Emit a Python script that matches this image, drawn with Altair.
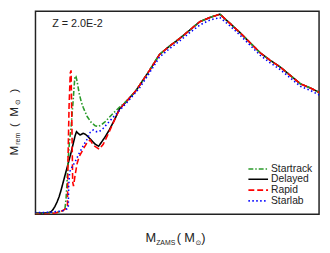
import altair as alt
import pandas as pd

series_names = ["Startrack", "Delayed", "Rapid", "Starlab"]
series_colors = ["#2a9a2a", "#000000", "#ff0000", "#0000ff"]
series_dashes = [[5, 2, 1.5, 2], [1, 0], [6, 3], [1.5, 2.5]]

delayed_x = [8, 10, 12, 14, 15, 16, 17, 18, 19, 20, 21, 22, 23, 24, 25, 26, 27, 28, 28.7, 29.5, 30.5, 32, 33, 34, 36, 38, 39.7,
             41, 43, 45, 48, 50, 52, 55, 58, 60, 65, 70, 75, 80, 85, 90, 95, 100, 105, 110, 115, 120, 125, 130, 135, 140, 145, 150]
delayed_y = [1.3, 1.3, 1.3, 1.32, 1.36, 1.45, 1.7, 2.1, 2.6, 3.2, 4.0, 4.9, 5.8, 6.7, 7.6, 8.5, 9.5, 10.5, 11.0, 10.8, 10.6, 10.8, 10.7, 10.5, 10.0, 9.5, 9.25,
             9.7, 10.4, 11.2, 12.6, 13.7, 14.2, 15.0, 15.8, 16.5, 18.3, 20.2, 21.2, 22.1, 23.1, 24.1, 24.6, 25.0, 23.9, 22.8, 21.6, 20.4, 19.5, 18.7, 17.7, 16.7, 16.2, 15.6]

startrack_x = [8, 12, 16, 19, 21, 22, 23, 23.5, 24, 24.5, 25.2, 26, 27, 27.9, 28.4, 29, 30, 31, 32, 34, 36, 38, 39.5, 41, 43, 45, 47, 50,
               52, 55, 58, 60, 65, 70, 75, 80, 85, 90, 95, 100, 105, 110, 115, 120, 125, 130, 135, 140, 145, 150]
startrack_y = [1.25, 1.25, 1.3, 1.35, 1.5, 1.6, 1.9, 3.0, 5.0, 7.5, 9.8, 11.5, 14.6, 17.6, 17.6, 17.0, 15.6, 14.6, 13.9, 12.8, 12.1, 11.7, 11.6, 11.8, 12.2, 12.7, 13.2, 13.9,
               14.3, 15.0, 15.8, 16.5, 18.3, 20.2, 21.2, 22.1, 23.1, 24.1, 24.6, 25.0, 23.9, 22.8, 21.6, 20.4, 19.5, 18.7, 17.7, 16.7, 16.2, 15.6]

rapid_x = [8, 12, 16, 20, 22, 23.5, 24.2, 24.5, 25, 25.6, 26.0, 26.4, 26.8, 27.2, 28, 29, 30, 32, 34, 35.5, 37, 40, 42, 45, 48, 50,
           52, 55, 58, 60, 65, 70, 75, 80, 85, 90, 95, 100, 105, 110, 115, 120, 125, 130, 135, 140, 145, 150]
rapid_y = [1.15, 1.15, 1.2, 1.4, 1.6, 1.85, 2.0, 8.0, 14.0, 18.0, 18.3, 12.0, 5.0, 4.5, 5.8, 7.2, 8.0, 8.9, 9.7, 10.0, 9.4, 8.9, 9.5, 11.0, 12.6, 13.6,
           14.2, 15.0, 15.8, 16.5, 18.3, 20.2, 21.2, 22.1, 23.1, 24.1, 24.6, 25.0, 23.9, 22.8, 21.6, 20.4, 19.5, 18.7, 17.7, 16.7, 16.2, 15.6]

starlab_x = [8, 12, 16, 20, 22, 24, 24.6, 24.8, 25.3, 26.5, 28, 30, 32, 34, 35.5, 37, 38.5, 40, 42, 45, 48, 50, 55, 60, 65, 70, 75, 80,
             85, 90, 95, 100, 105, 110, 115, 120, 125, 130, 135, 140, 145, 150]
starlab_y = [1.35, 1.35, 1.4, 1.5, 1.6, 1.8, 1.9, 4.5, 6.2, 6.8, 7.4, 8.4, 9.3, 10.1, 10.9, 11.2, 11.0, 11.0, 11.4, 12.2, 13.0, 13.5, 14.8, 16.2, 18.0, 19.9, 20.9, 21.8,
             22.8, 23.7, 24.3, 24.6, 23.6, 22.5, 21.3, 20.1, 19.2, 18.4, 17.4, 16.4, 15.9, 15.3]

x_ticks = [10, 20, 30, 40, 50, 60, 70, 80, 90, 100, 110, 120, 130, 140]
y_ticks = [2.5, 5, 7.5, 10, 12.5, 15, 17.5, 20, 22.5, 25]
X_DOMAIN = [8.3, 149.3]
Y_DOMAIN = [1.14, 25.35]

rows = []
for name, xs, ys in [("Delayed", delayed_x, delayed_y), ("Startrack", startrack_x, startrack_y),
                     ("Rapid", rapid_x, rapid_y), ("Starlab", starlab_x, starlab_y)]:
    for i, (a, b) in enumerate(zip(xs, ys)):
        rows.append({"series": name, "m_zams": a, "m_rem": b, "i": i})
df = pd.DataFrame(rows)

FONT = "Liberation Sans"
W, H = 289, 207
xscale = alt.Scale(domain=X_DOMAIN, nice=False, zero=False)
yscale = alt.Scale(domain=Y_DOMAIN, nice=False, zero=False)
cscale = alt.Scale(domain=series_names, range=series_colors)
dscale = alt.Scale(domain=series_names, range=series_dashes)

x_axis = alt.Axis(values=x_ticks, labelExpr="datum.value % 20 == 0 ? datum.label : ''", labelOverlap=False,
                  title=None, grid=True, gridDash=[2, 2], gridColor="#cfcfcf", tickSize=4, labelPadding=2,
                  domain=False, tickColor="#222", labelFont=FONT, labelFontSize=11, labelColor="#333")
y_axis = alt.Axis(values=y_ticks, labelExpr="datum.value % 5 == 0 ? datum.label : ''", labelOverlap=False,
                  title=None, grid=True, gridDash=[2, 2], gridColor="#cfcfcf", tickSize=4, labelPadding=3,
                  domain=False, tickColor="#222", labelFont=FONT, labelFontSize=11, labelColor="#333")

layers = []
frame = alt.Chart(df).mark_point(opacity=0).encode(
    x=alt.X("m_zams:Q", scale=xscale, axis=x_axis),
    y=alt.Y("m_rem:Q", scale=yscale, axis=y_axis),
)
layers.append(frame)

for name in ["Delayed", "Startrack", "Rapid", "Starlab"]:
    layers.append(
        alt.Chart(df).transform_filter(alt.datum.series == name).mark_line(strokeWidth=1.6, clip=True).encode(
            x=alt.X("m_zams:Q", scale=xscale, axis=None),
            y=alt.Y("m_rem:Q", scale=yscale, axis=None),
            color=alt.Color("series:N", scale=cscale, legend=None),
            strokeDash=alt.StrokeDash("series:N", scale=dscale, legend=None),
            order="i:Q",
        )
    )

one = pd.DataFrame({"k": [0]})


def txt(s, x, y, size=11, angle=0, font=FONT, align="left", baseline="alphabetic"):
    kw = dict(font=font, fontSize=size, align=align, baseline=baseline, color="#222")
    if angle:
        kw["angle"] = angle
    return alt.Chart(one).mark_text(**kw).encode(x=alt.value(x), y=alt.value(y), text=alt.value(s))


# plot origin at page (36, 11)
OX, OY = 36, 11
layers.append(txt("Z = 2.0E-2", 53 - OX, 27 - OY, size=11))

# legend
leg_rows = [171.7, 182.3, 193.3, 204.3]
for name, color, dash, yy in zip(series_names, series_colors, series_dashes, leg_rows):
    layers.append(alt.Chart(one).mark_rule(color=color, strokeDash=dash, strokeWidth=1.6).encode(
        x=alt.value(253 - OX), x2=alt.value(273 - OX), y=alt.value(yy - OY)))
    layers.append(txt(name, 276 - OX, yy - OY, size=10.5, baseline="middle"))

# x title
xb = 246.5 - OY
layers.append(txt("M", 148 - OX, xb, size=13))
layers.append(txt("ZAMS", 159 - OX, xb + 3, size=7))
layers.append(txt("(", 180 - OX, xb, size=13))
layers.append(txt("M", 187.5 - OX, xb, size=13))
layers.append(txt("\u2299", 199 - OX, xb + 3, size=7, font="DejaVu Sans"))
layers.append(txt(")", 205 - OX, xb, size=13))

# y title (rotated)
yb = 18.5 - OX
layers.append(txt("M", yb, 158 - OY, size=12, angle=270))
layers.append(txt("rem", yb + 2, 147 - OY, size=7, angle=270))
layers.append(txt("(", yb, 129 - OY, size=12, angle=270))
layers.append(txt("M", yb, 118.5 - OY, size=12, angle=270))
layers.append(txt("\u2299", yb + 2, 106.5 - OY, size=7, angle=270, font="DejaVu Sans"))
layers.append(txt(")", yb, 94 - OY, size=12, angle=270))

chart = alt.layer(*layers).properties(
    width=W, height=H,
    padding={"left": 28, "top": 1, "right": 3, "bottom": 32},
    autosize=alt.AutoSizeParams(type="none"),
).configure_view(stroke="#222", strokeWidth=1.5)

chart.save("out.html", embed_options={"renderer": "svg", "actions": False})
